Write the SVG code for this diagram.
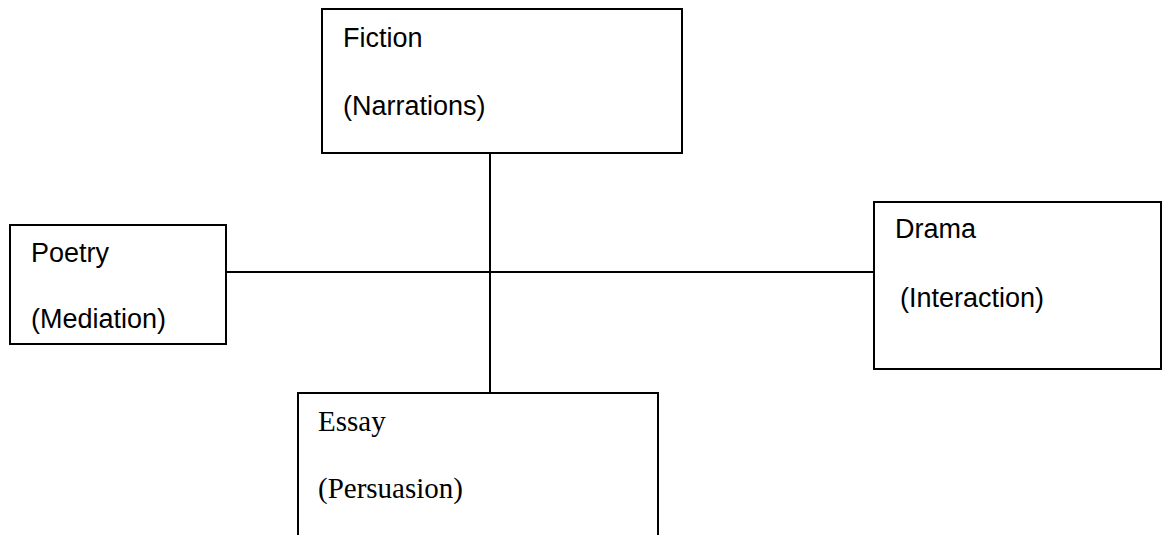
<svg xmlns="http://www.w3.org/2000/svg" width="1162" height="535" viewBox="0 0 1162 535">
<style>
.box{fill:#fff;stroke:#000;stroke-width:2}
.ln{stroke:#000;stroke-width:2;fill:none}
.s{font-family:"Liberation Sans",Arial,sans-serif;font-size:27px;fill:#000}
.r{font-family:"Liberation Serif","Times New Roman",serif;font-size:29px;fill:#000}
</style>
<rect width="1162" height="535" fill="#fff"/>
<g id="connectors">
<line class="ln" x1="490" y1="153" x2="490" y2="393"/>
<line class="ln" x1="226" y1="272" x2="874" y2="272"/>
</g>
<g id="fiction">
<rect class="box" x="322" y="9" width="360" height="144"/>
<text class="s" x="343" y="47">Fiction</text>
<text class="s" x="343" y="115">(Narrations)</text>
</g>
<g id="poetry">
<rect class="box" x="10" y="225" width="216" height="119"/>
<text class="s" x="31" y="262">Poetry</text>
<text class="s" x="31" y="328">(Mediation)</text>
</g>
<g id="drama">
<rect class="box" x="874" y="202" width="287" height="167"/>
<text class="s" x="895" y="238">Drama</text>
<text class="s" x="900" y="307">(Interaction)</text>
</g>
<g id="essay">
<rect class="box" x="298" y="393" width="360" height="160"/>
<text class="r" x="318" y="431">Essay</text>
<text class="r" x="318" y="498">(Persuasion)</text>
</g>
</svg>
